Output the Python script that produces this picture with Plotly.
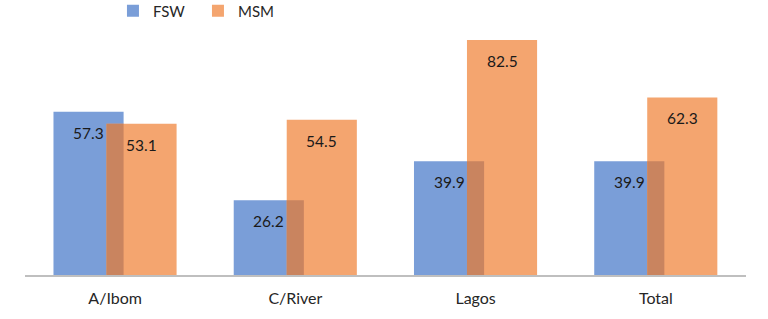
import plotly.graph_objects as go

categories = ["A/Ibom", "C/River", "Lagos", "Total"]
fsw = [57.3, 26.2, 39.9, 39.9]
msm = [53.1, 54.5, 82.5, 62.3]
overlap = [min(a, b) for a, b in zip(fsw, msm)]

BLUE = "#7A9ED8"
ORANGE = "#F4A56F"
OVER = "#C9845F"
FONT = "Lato"

fig = go.Figure()
fig.add_trace(go.Bar(x=categories, y=fsw, name="FSW", marker_color=BLUE,
                     width=0.389, offset=-0.342, marker_line_width=0))
fig.add_trace(go.Bar(x=categories, y=msm, name="MSM", marker_color=ORANGE,
                     width=0.389, offset=-0.048, marker_line_width=0))
fig.add_trace(go.Bar(x=categories, y=overlap, name="overlap", marker_color=OVER,
                     width=0.095, offset=-0.048, marker_line_width=0,
                     showlegend=False, hoverinfo="skip"))

for c, v in zip(categories, fsw):
    fig.add_annotation(x=c, y=v, text=f"{v:.1f}", showarrow=False,
                       xshift=-26.5, yshift=-21, yanchor="middle",
                       font=dict(family=FONT, size=15.5, color="#1a1a1a"))
for c, v in zip(categories, msm):
    fig.add_annotation(x=c, y=v, text=f"{v:.1f}", showarrow=False,
                       xshift=26.5, yshift=-21, yanchor="middle",
                       font=dict(family=FONT, size=15.5, color="#1a1a1a"))

fig.update_layout(
    width=768, height=319,
    margin=dict(l=25, r=22, t=0, b=44, autoexpand=False),
    barmode="overlay",
    plot_bgcolor="white", paper_bgcolor="white",
    font=dict(family=FONT, size=15, color="#262626"),
    showlegend=True,
    legend=dict(orientation="h", x=0.122, xanchor="left", y=1.02, yanchor="top",
                entrywidth=40, entrywidthmode="pixels",
                font=dict(family=FONT, size=15, color="#262626"),
                bgcolor="rgba(0,0,0,0)"),
    xaxis=dict(showline=True, linecolor="#BFBFBF", linewidth=2, ticks="",
               showgrid=False, ticklabelstandoff=8,
               tickfont=dict(family=FONT, size=16, color="#262626")),
    yaxis=dict(range=[0, 96.5], visible=False, showgrid=False, zeroline=False),
)

fig.write_html("out.html", config={"displayModeBar": False},
               post_script="document.body.style.margin='0';document.body.style.padding='0';")
